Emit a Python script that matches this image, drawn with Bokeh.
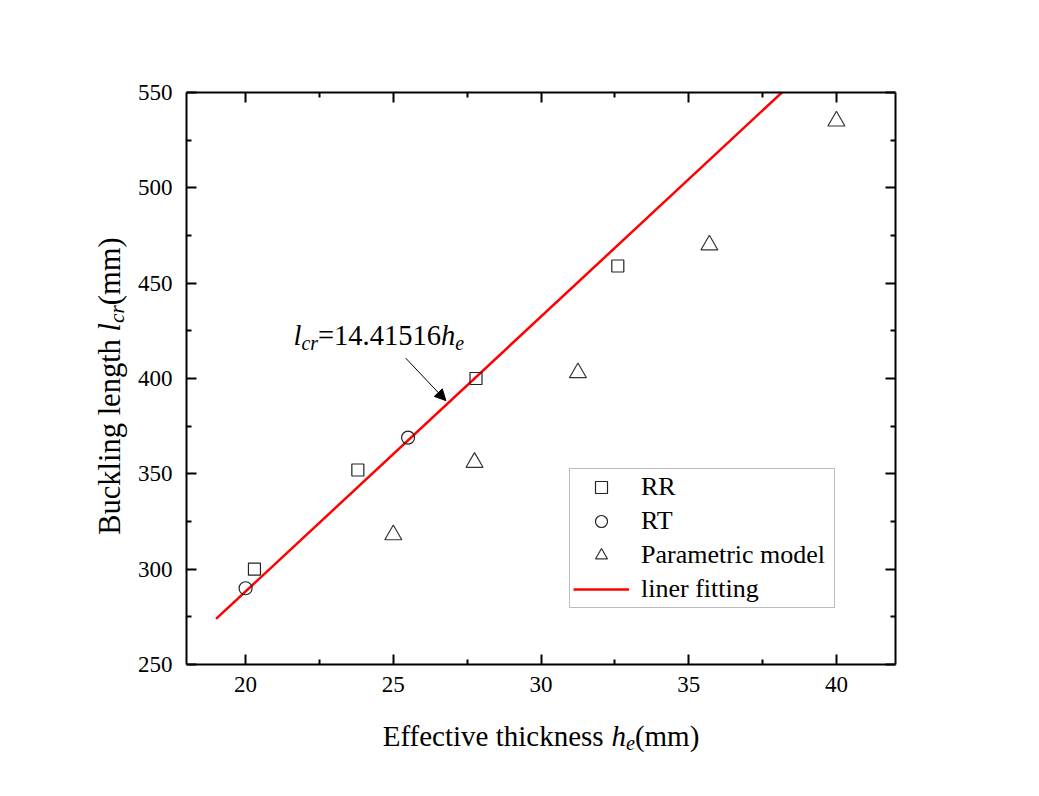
import math
from bokeh.plotting import figure
from bokeh.layouts import column, row
from bokeh.core.properties import value
from bokeh.models import (Range1d, LinearAxis, FixedTicker, Legend, LegendItem,
                          Label, Arrow, NormalHead)
from bokeh.embed import file_html
from bokeh.resources import INLINE

# ---- data -------------------------------------------------------------
rr_x = [20.3, 23.8, 27.8, 32.6]
rr_y = [300, 352, 400, 459]

rt_x = [20.0, 25.5]
rt_y = [290, 369]

pm_x = [25.0, 27.75, 31.25, 35.7, 40.0]
pm_y = [318, 356, 403, 470, 535]

slope = 14.41516
fit_x = [19.0, 40.0]
fit_y = [slope * v for v in fit_x]

x_ticks = [20, 25, 30, 35, 40]
y_ticks = [250, 300, 350, 400, 450, 500, 550]

# ---- page geometry (px) -------------------------------------------------
FONT = "Liberation Serif"
W, H = 1039, 796
YT_W = 132            # strip holding the vertical axis title
MAIN_H = 710          # main chart height; x title strip sits below
FL, FR, FT, FB = 186, 895, 92, 664   # plot frame edges on the page

# Times-compatible advance widths (1/1000 em) for laying out mixed-style runs
ROMAN = {"E": 611, "f": 333, "e": 444, "c": 444, "t": 278, "i": 278, "v": 500,
         " ": 250, "h": 500, "k": 500, "n": 500, "s": 389, "(": 333, "m": 778,
         ")": 333, "B": 667, "u": 500, "l": 278, "g": 500, "=": 564, ".": 250,
         "r": 333}
ITALIC = {"h": 500, "e": 444, "l": 278, "c": 444, "r": 389}


def run_width(text, size, italic):
    table = ITALIC if italic else ROMAN
    return sum(table.get(ch, 500) for ch in text) * size / 1000.0


def layout_runs(runs, size):
    """runs: (text, italic, scale, drop) -> list of (text, italic, px size, advance, drop px)"""
    out, pos = [], 0.0
    for text, italic, scale, drop in runs:
        s = size * scale
        out.append((text, italic, s, pos, drop * size))
        pos += run_width(text, s, italic)
    return out, pos


def label(fig, text, x, y, size, italic=False, units="data"):
    fig.add_layout(Label(x=x, y=y, x_units=units, y_units=units, text=text,
                         text_font=FONT, text_font_size=f"{size:.1f}px",
                         text_font_style="italic" if italic else "normal",
                         text_align="left", text_baseline="alphabetic",
                         text_color="black"))


def glyph_text(fig, text, x, y, size, italic=False, angle=0.0):
    fig.text(x=[x], y=[y], text=[text], angle=angle,
             text_font=value(FONT), text_font_size=value(f"{size:.1f}px"),
             text_font_style=value("italic" if italic else "normal"),
             text_align="left", text_baseline="alphabetic", text_color="black")


def text_strip(width, height, top, bottom):
    # bare canvas; its frame keeps the given top/bottom borders and its data
    # coordinates are pixels measured upward from the strip's bottom edge
    f = figure(width=width, height=height, output_backend="svg",
               toolbar_location=None, x_range=Range1d(0, width),
               y_range=Range1d(bottom, height - top),
               x_axis_type=None, y_axis_type=None,
               min_border_left=0, min_border_right=0,
               min_border_top=top, min_border_bottom=bottom,
               outline_line_color=None)
    f.grid.visible = False
    f.background_fill_color = "white"
    f.border_fill_color = "white"
    return f


# ---- main chart -----------------------------------------------------------
p = figure(width=W - YT_W, height=MAIN_H, output_backend="svg",
           toolbar_location=None,
           x_range=Range1d(18, 42), y_range=Range1d(250, 550),
           min_border_left=FL - YT_W, min_border_right=W - FR,
           min_border_top=FT, min_border_bottom=MAIN_H - FB,
           x_axis_type=None, y_axis_type=None)
p.outline_line_color = None
p.background_fill_color = "white"
p.border_fill_color = "white"


def midpoints(t):
    return [(a + b) / 2 for a, b in zip(t[:-1], t[1:])]


def make_axis(ticks, labels, standoff):
    ax = LinearAxis(ticker=FixedTicker(ticks=ticks, minor_ticks=midpoints(ticks)))
    ax.axis_line_width = 2
    ax.axis_line_color = "black"
    ax.major_tick_in = 10
    ax.major_tick_out = 0
    ax.minor_tick_in = 5
    ax.minor_tick_out = 0
    ax.major_tick_line_width = 2
    ax.minor_tick_line_width = 2
    ax.major_tick_line_color = "black"
    ax.minor_tick_line_color = "black"
    ax.major_label_text_font = FONT
    ax.major_label_text_font_size = "23px"
    ax.major_label_text_color = "black" if labels else None
    ax.major_label_standoff = standoff
    return ax


p.add_layout(make_axis(x_ticks, True, 12), "below")
p.add_layout(make_axis(y_ticks, True, 14), "left")
p.add_layout(make_axis(x_ticks, False, 0), "above")
p.add_layout(make_axis(y_ticks, False, 0), "right")

# horizontal dotted grid at every major and minor y tick
p.xgrid.visible = False
p.ygrid.ticker = FixedTicker(ticks=y_ticks, minor_ticks=midpoints(y_ticks))
p.ygrid.grid_line_color = "#c4c4c4"
p.ygrid.grid_line_dash = "1 3"
p.ygrid.grid_line_width = 1
p.ygrid.minor_grid_line_color = "#c4c4c4"
p.ygrid.minor_grid_line_dash = "1 3"
p.ygrid.minor_grid_line_width = 1

r_fit = p.line(fit_x, fit_y, line_color="#ff0000", line_width=2.5)
r_rr = p.scatter(rr_x, rr_y, marker="square", size=12, fill_color=None,
                 line_color="#222222", line_width=1.2)
r_rt = p.scatter(rt_x, rt_y, marker="circle", size=13, fill_color=None,
                 line_color="#222222", line_width=1.2)
r_pm = p.scatter(pm_x, pm_y, marker="triangle", size=17, fill_color=None,
                 line_color="#333333", line_width=1.2)

legend = Legend(items=[
    LegendItem(label="RR", renderers=[r_rr]),
    LegendItem(label="RT", renderers=[r_rt]),
    LegendItem(label="Parametric model", renderers=[r_pm]),
    LegendItem(label="liner fitting", renderers=[r_fit]),
], location=(569 - FL, FB - 608))
legend.border_line_color = "#7a7a7a"
legend.border_line_width = 1
legend.background_fill_color = "white"
legend.background_fill_alpha = 1
legend.label_text_font = FONT
legend.label_text_font_size = "26px"
legend.label_text_color = "black"
legend.glyph_width = 56
legend.glyph_height = 30
legend.label_height = 30
legend.label_width = 190
legend.label_standoff = 12
legend.spacing = 4
legend.padding = 3
legend.margin = 0
p.add_layout(legend, "center")

# fitted equation, l_cr = 14.41516 h_e, with an arrow pointing at the line
EQ_SIZE = 28.5
eq_runs, _ = layout_runs([("l", True, 1, 0), ("cr", True, 0.7, 0.25),
                          ("=14.41516", False, 1, 0), ("h", True, 1, 0),
                          ("e", True, 0.7, 0.25)], EQ_SIZE)
for text, italic, s, adv, drop in eq_runs:
    label(p, text, 293 + adv - FL, FB - (335 + drop), s, italic, units="screen")

p.add_layout(Arrow(end=NormalHead(size=11, fill_color="black", line_color="black"),
                   x_start=25.42, y_start=410.7, x_end=26.78, y_end=388.4,
                   line_color="black", line_width=1))

# ---- axis titles ----------------------------------------------------------
TITLE_SIZE = 29

# y title: Buckling length l_cr (mm), reading upward, centred on the frame
Y_TITLE_SIZE = 30.5
ytitle = text_strip(YT_W, MAIN_H, FT, MAIN_H - FB)
y_runs, y_len = layout_runs([("Buckling length ", False, 1, 0), ("l", True, 1, 0),
                             ("cr", True, 0.7, 0.25), ("  (mm)", False, 1, 0)],
                            Y_TITLE_SIZE)
y_start = (FT + FB) / 2 + y_len / 2          # page y where the title begins
for text, italic, s, adv, drop in y_runs:
    glyph_text(ytitle, text, 109 + drop, MAIN_H - (y_start - adv), s, italic,
               angle=math.pi / 2)

# x title: Effective thickness h_e(mm), centred on the frame
XT_H = H - MAIN_H
xtitle = text_strip(W, XT_H, 0, 0)
x_runs, x_len = layout_runs([("Effective thickness ", False, 1, 0), ("h", True, 1, 0),
                             ("e", True, 0.7, 0.25), ("(mm)", False, 1, 0)],
                            TITLE_SIZE)
x_start = (FL + FR) / 2 - x_len / 2
for text, italic, s, adv, drop in x_runs:
    glyph_text(xtitle, text, x_start + adv, XT_H - (735 - MAIN_H + drop), s, italic)

page = column(row(ytitle, p, spacing=0), xtitle, spacing=0)
open("out.html", "w").write(file_html(page, INLINE))
